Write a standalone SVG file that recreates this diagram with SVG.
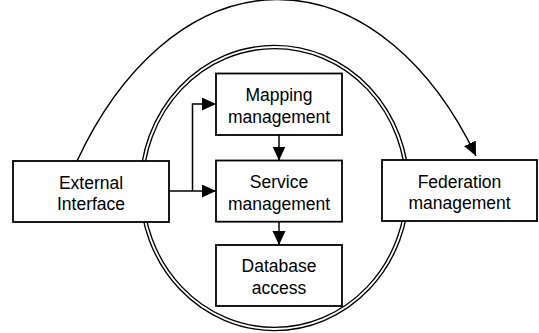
<svg xmlns="http://www.w3.org/2000/svg" width="539" height="333" viewBox="0 0 539 333">
<style>
.box{fill:#fff;stroke:#000;stroke-width:1.8}
.lbl{font-family:"Liberation Sans",Arial,sans-serif;font-size:17.5px;fill:#000;text-anchor:middle}
.con{fill:none;stroke:#000;stroke-width:1.5}
</style>
<defs>
<marker id="ah" markerUnits="userSpaceOnUse" markerWidth="15" markerHeight="14" refX="14" refY="6.5" orient="auto">
<path d="M0,0 L14,6.5 L0,13 Z" fill="#000"/>
</marker>
</defs>
<g id="boundary">
<ellipse cx="274.5" cy="188" rx="133" ry="141" fill="none" stroke="#000" stroke-width="4.5"/>
<ellipse cx="274.5" cy="188" rx="133" ry="141" fill="none" stroke="#fff" stroke-width="1.8"/>
</g>
<g id="connectors">
<path class="con" d="M77,161 A250,400 0 0 1 476,156" marker-end="url(#ah)"/>
<path class="con" d="M169,191 H216" marker-end="url(#ah)"/>
<path class="con" d="M192.5,191 V104 H216" marker-end="url(#ah)"/>
<path class="con" d="M279,135 V160.5" marker-end="url(#ah)"/>
<path class="con" d="M279,221.7 V245" marker-end="url(#ah)"/>
</g>
<g id="external">
<rect class="box" x="13" y="161" width="156" height="61"/>
<text class="lbl" x="91" y="188.5">External</text>
<text class="lbl" x="91" y="210">Interface</text>
</g>
<g id="mapping">
<rect class="box" x="216" y="73.5" width="126" height="61.5"/>
<text class="lbl" x="279" y="101">Mapping</text>
<text class="lbl" x="279" y="123">management</text>
</g>
<g id="service">
<rect class="box" x="216" y="160.5" width="126" height="61.2"/>
<text class="lbl" x="279" y="188">Service</text>
<text class="lbl" x="279" y="210">management</text>
</g>
<g id="database">
<rect class="box" x="216" y="245" width="126" height="61"/>
<text class="lbl" x="279" y="272">Database</text>
<text class="lbl" x="279" y="293.5">access</text>
</g>
<g id="federation">
<rect class="box" x="382" y="160" width="155" height="61"/>
<text class="lbl" x="459.5" y="187.5">Federation</text>
<text class="lbl" x="459.5" y="209">management</text>
</g>
</svg>
